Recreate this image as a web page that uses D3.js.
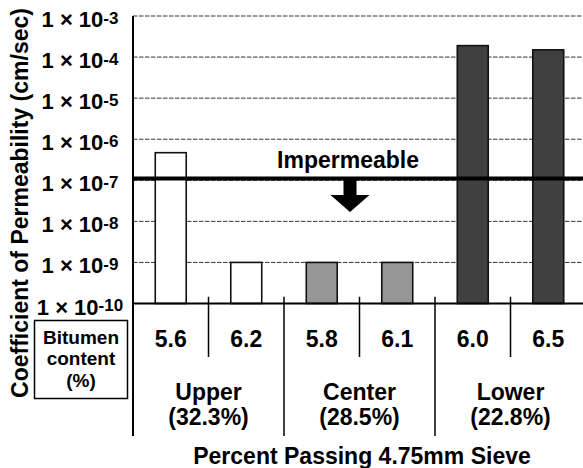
<!DOCTYPE html>
<html><head><meta charset="utf-8">
<script src="https://cdn.jsdelivr.net/npm/d3@7"></script>
<style>
html,body{margin:0;padding:0;background:#fff;}
svg{display:block;font-family:"Liberation Sans",Arial,Helvetica,sans-serif;font-weight:bold;}
</style></head>
<body><svg id="chart" width="583" height="468"></svg>
<script>
// ---- data ----
const bitumen = ["5.6","6.2","5.8","6.1","6.0","6.5"];
const gradation = ["Upper","Upper","Center","Center","Lower","Lower"];
const permeability = [4.7e-7, 1e-9, 1e-9, 1e-9, 1.9e-4, 1.5e-4];
const groups = ["Upper","Center","Lower"];
const groupPercent = ["(32.3%)","(28.5%)","(22.8%)"];
const groupColors = ["#ffffff","#969696","#404040"];
const yTickExponents = [-3,-4,-5,-6,-7,-8,-9,-10];
const impermeableLimit = 1.1e-7;
const yTitle = "Coefficient of Permeability (cm/sec)";
const xTitle = "Percent Passing 4.75mm Sieve";
const tableLabel = ["Bitumen","content","(%)"];

// ---- layout ----
const svg = d3.select("#chart");
const pLeft = 133, pRight = 586, pTop = 16, pBottom = 303.5;
const x = d3.scaleBand().domain(d3.range(bitumen.length)).range([pLeft, pRight]).paddingInner(0.59).paddingOuter(0.295);
const xg = d3.scaleBand().domain(groups).range([pLeft, pRight]);
const y = d3.scaleLog().domain([1e-10, 1e-3]).range([pBottom, pTop]);
const color = d3.scaleOrdinal().domain(groups).range(groupColors);

// gridlines
svg.append("g").selectAll("line").data(yTickExponents.filter(e => e > -10)).join("line")
  .attr("x1", pLeft).attr("x2", 583)
  .attr("y1", e => y(Math.pow(10, e))).attr("y2", e => y(Math.pow(10, e)))
  .attr("stroke", "#333").attr("stroke-width", 1).attr("stroke-dasharray", "4.5,1.5");

// bars
svg.append("g").selectAll("rect").data(permeability).join("rect")
  .attr("x", (d, i) => x(i)).attr("width", x.bandwidth())
  .attr("y", d => y(d)).attr("height", d => pBottom - y(d))
  .attr("fill", (d, i) => color(gradation[i]))
  .attr("stroke", "#111").attr("stroke-width", 1.6);

// impermeable line
svg.append("line").attr("x1", pLeft).attr("x2", 583)
  .attr("y1", y(impermeableLimit)).attr("y2", y(impermeableLimit))
  .attr("stroke", "#000").attr("stroke-width", 4);

svg.append("text").attr("x", 348).attr("y", 168).attr("text-anchor", "middle")
  .attr("font-size", 23).text("Impermeable");

// arrow
const ay = y(impermeableLimit);
const ax = 350;
svg.append("path")
  .attr("d", `M${ax-6.5},${ay+1.5} L${ax+6.5},${ay+1.5} L${ax+6.5},${ay+16.5} L${ax+19.5},${ay+16.5} L${ax},${ay+33.5} L${ax-19.5},${ay+16.5} L${ax-6.5},${ay+16.5} Z`)
  .attr("fill", "#000");

// axes lines
svg.append("line").attr("x1", pLeft).attr("x2", pLeft).attr("y1", pTop).attr("y2", 436)
  .attr("stroke", "#000").attr("stroke-width", 2);
svg.append("line").attr("x1", pLeft).attr("x2", 583).attr("y1", pBottom).attr("y2", pBottom)
  .attr("stroke", "#000").attr("stroke-width", 2);

// y tick labels
const yl = svg.append("g").selectAll("text").data(yTickExponents).join("text")
  .attr("x", 80).attr("y", e => y(Math.pow(10, e)) + 11)
  .attr("text-anchor", "middle").attr("font-size", 22);
yl.append("tspan").text("1 \u00d7 10");
yl.append("tspan").attr("font-size", 17).attr("dy", -3.5).text(e => String(e));

// y title
svg.append("text").attr("transform", "translate(28,203) rotate(-90)")
  .attr("text-anchor", "middle").attr("font-size", 23).text(yTitle);

// divider lines under the axis
const boundaries = d3.range(1, bitumen.length).map(i => x(i) - x.step() * x.paddingInner() / 2);
svg.append("g").selectAll("line").data(boundaries).join("line")
  .attr("x1", d => d).attr("x2", d => d)
  .attr("y1", 296.7).attr("y2", (d, i) => (i % 2 === 1) ? 436 : 357)
  .attr("stroke", "#000").attr("stroke-width", 1.5);

// bitumen values
svg.append("g").selectAll("text").data(bitumen).join("text")
  .attr("x", (d, i) => x(i) + x.bandwidth() / 2).attr("y", 347)
  .attr("text-anchor", "middle").attr("font-size", 23).text(d => d);

// group labels
const gl = svg.append("g").selectAll("text").data(groups).join("text")
  .attr("text-anchor", "middle").attr("font-size", 23);
gl.append("tspan").attr("x", g => xg(g) + xg.bandwidth() / 2).attr("y", 400).text(g => g);
gl.append("tspan").attr("x", g => xg(g) + xg.bandwidth() / 2).attr("y", 425).text((g, i) => groupPercent[i]);

// table label box
svg.append("rect").attr("x", 34.5).attr("y", 320.5).attr("width", 93).attr("height", 78)
  .attr("fill", "none").attr("stroke", "#000").attr("stroke-width", 1.5);
svg.append("g").selectAll("text").data(tableLabel).join("text")
  .attr("x", 81).attr("y", (d, i) => 343.5 + i * 21.7)
  .attr("text-anchor", "middle").attr("font-size", 19).text(d => d);

// x title
svg.append("text").attr("x", 362).attr("y", 463.5).attr("text-anchor", "middle")
  .attr("font-size", 23).text(xTitle);
</script></body></html>
